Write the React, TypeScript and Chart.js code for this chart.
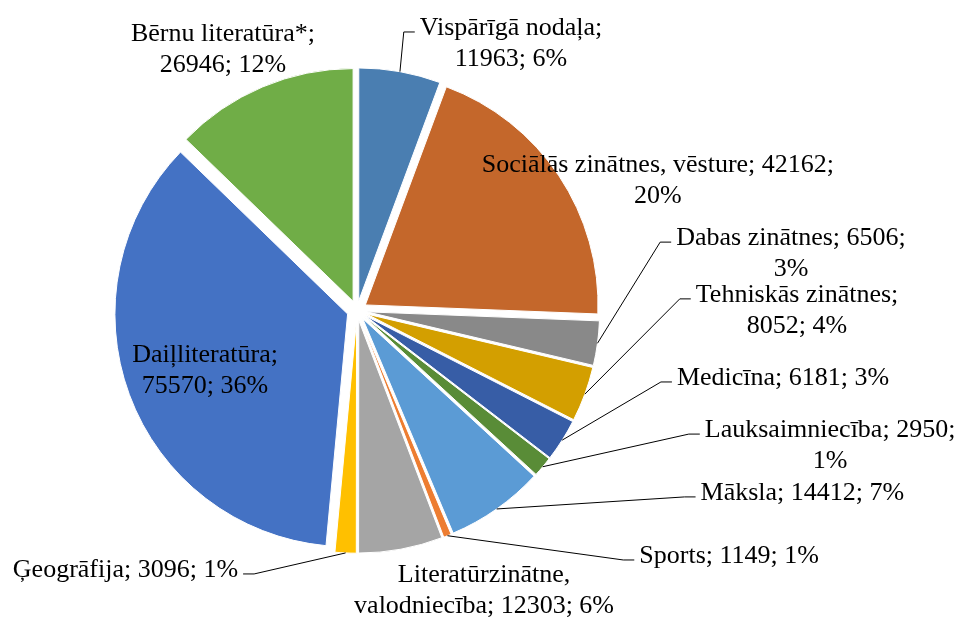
import React, { useEffect, useRef } from "react";
import { Chart, registerables, ArcElement } from "chart.js";

Chart.register(...registerables);

// ---- data ----
const categories = [
  "Vispārīgā nodaļa",
  "Sociālās zinātnes, vēsture",
  "Dabas zinātnes",
  "Tehniskās zinātnes",
  "Medicīna",
  "Lauksaimniecība",
  "Māksla",
  "Sports",
  "Literatūrzinātne, valodniecība",
  "Ģeogrāfija",
  "Daiļliteratūra",
  "Bērnu literatūra*",
];
const values = [11963, 42162, 6506, 8052, 6181, 2950, 14412, 1149, 12303, 3096, 75570, 26946];
const percentLabels = [6, 20, 3, 4, 3, 1, 7, 1, 6, 1, 36, 12];

// ---- styles ----
const colors = [
  "#4A7EB1",
  "#C4672B",
  "#898989",
  "#D39F00",
  "#375DA6",
  "#598C37",
  "#5B9BD5",
  "#ED7D31",
  "#A5A5A5",
  "#FFC000",
  "#4472C4",
  "#70AD47",
];

// label placement: centre x / first baseline relative to pie centre (in radii), wrap width (px), leader line
const labelLayout = [
  { dx: 0.662, dy: -1.184, wrap: 200, leader: true },
  { dx: 1.293, dy: -0.595, wrap: 375, leader: false },
  { dx: 1.865, dy: -0.281, wrap: 245, leader: true },
  { dx: 1.891, dy: -0.037, wrap: 222, leader: true },
  { dx: 1.831, dy: 0.32, wrap: 400, leader: true },
  { dx: 2.033, dy: 0.544, wrap: 265, leader: true },
  { dx: 1.914, dy: 0.814, wrap: 400, leader: true },
  { dx: 1.599, dy: 1.085, wrap: 400, leader: true },
  { dx: 0.546, dy: 1.167, wrap: 275, leader: false },
  { dx: -0.995, dy: 1.145, wrap: 400, leader: true },
  { dx: -0.653, dy: 0.221, wrap: 165, leader: false },
  { dx: -0.576, dy: -1.158, wrap: 200, leader: false },
];

const EXPLODE = 10;
const FONT = '26px "Liberation Serif", "Times New Roman", serif';
const LINE_H = 31;
const LEADER_GAP = 5;
const LEADER_SEG = 11;

// explode every slice outward along its bisector (without enlarging it)
const proto: any = ArcElement.prototype;
if (!proto.__explodedPatch) {
  const baseDraw = proto.draw;
  proto.draw = function (ctx: CanvasRenderingContext2D) {
    const mid = (this.startAngle + this.endAngle) / 2;
    ctx.save();
    ctx.translate(Math.cos(mid) * EXPLODE, Math.sin(mid) * EXPLODE);
    baseDraw.call(this, ctx);
    ctx.restore();
  };
  proto.__explodedPatch = true;
}

function wrapText(ctx: CanvasRenderingContext2D, text: string, maxW: number): string[] {
  const words = text.split(" ");
  const lines: string[] = [];
  let cur = "";
  for (const w of words) {
    const test = cur ? cur + " " + w : w;
    if (cur && ctx.measureText(test).width > maxW) {
      lines.push(cur);
      cur = w;
    } else {
      cur = test;
    }
  }
  if (cur) lines.push(cur);
  return lines;
}

const labelPlugin = {
  id: "pieLabels",
  afterDatasetsDraw(chart: any) {
    const ctx: CanvasRenderingContext2D = chart.ctx;
    const meta = chart.getDatasetMeta(0);
    ctx.save();
    ctx.font = FONT;
    ctx.fillStyle = "#000000";
    ctx.textAlign = "center";
    ctx.textBaseline = "alphabetic";
    meta.data.forEach((arc: any, i: number) => {
      const { x, y, startAngle, endAngle, outerRadius } = arc.getProps(
        ["x", "y", "startAngle", "endAngle", "outerRadius"],
        true
      );
      const lay = labelLayout[i];
      const text = `${categories[i]}; ${values[i]}; ${percentLabels[i]}%`;
      const lines = wrapText(ctx, text, lay.wrap);
      const lx = x + lay.dx * outerRadius;
      const ly = y + lay.dy * outerRadius;
      const maxW = Math.max(...lines.map((l) => ctx.measureText(l).width));
      if (lay.leader) {
        const mid = (startAngle + endAngle) / 2;
        const sx = x + Math.cos(mid) * (outerRadius + EXPLODE);
        const sy = y + Math.sin(mid) * (outerRadius + EXPLODE);
        const right = lx > sx;
        const edge = right ? lx - maxW / 2 - LEADER_GAP : lx + maxW / 2 + LEADER_GAP;
        const elbow = right ? edge - LEADER_SEG : edge + LEADER_SEG;
        const ey = ly - 3;
        ctx.beginPath();
        ctx.strokeStyle = "#000000";
        ctx.lineWidth = 1;
        ctx.moveTo(sx, sy);
        ctx.lineTo(elbow, ey);
        ctx.lineTo(edge, ey);
        ctx.stroke();
      }
      lines.forEach((l, k) => ctx.fillText(l, lx, ly + k * LINE_H));
    });
    ctx.restore();
  },
};

export default function App() {
  const ref = useRef<HTMLCanvasElement>(null);
  useEffect(() => {
    if (!ref.current) return;
    const chart = new Chart(ref.current, {
      type: "pie",
      data: {
        labels: categories,
        datasets: [
          {
            data: values,
            backgroundColor: colors,
            borderColor: "#ffffff",
            borderWidth: 1,
          },
        ],
      },
      options: {
        animation: false,
        responsive: true,
        maintainAspectRatio: false,
        layout: { padding: { left: 123.8, right: 371.8, top: 77.3, bottom: 73.3 } },
        plugins: {
          legend: { display: false },
          tooltip: { enabled: false },
        },
      },
      plugins: [labelPlugin],
    });
    return () => chart.destroy();
  }, []);
  return (
    <div style={{ position: "fixed", left: 0, top: 0, width: 962, height: 617, background: "#ffffff" }}>
      <canvas ref={ref} />
    </div>
  );
}
